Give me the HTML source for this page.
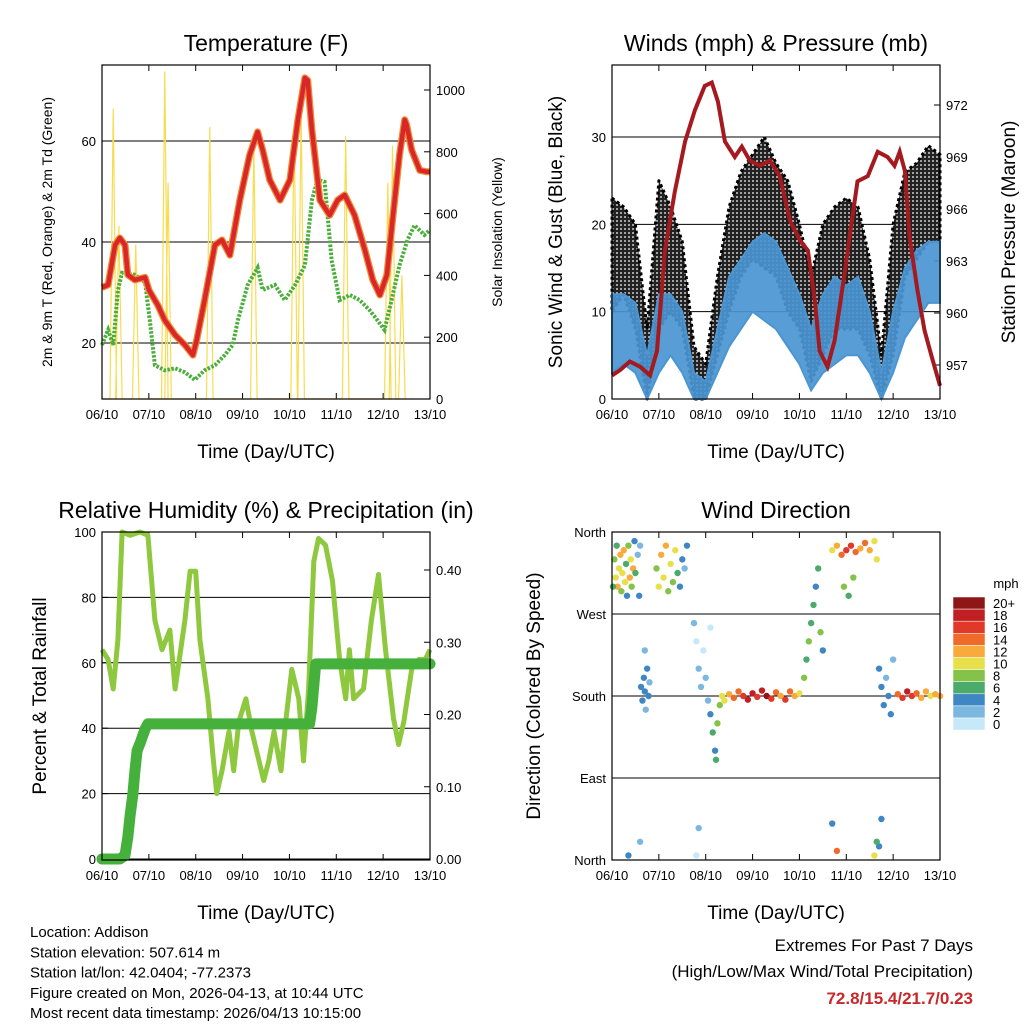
<!DOCTYPE html>
<html><head><meta charset="utf-8"><style>
body{margin:0;background:#fff}
svg{display:block;font-family:"Liberation Sans",sans-serif}
</style></head><body>
<svg id="s" width="1024" height="1024" xmlns="http://www.w3.org/2000/svg">
<defs>
<pattern id="dots" width="4" height="4" patternUnits="userSpaceOnUse"><rect width="4" height="4" fill="#222"/><circle cx="1" cy="1" r="0.9" fill="#fff"/></pattern>
</defs>
</svg>
<script>
// ---------- DATA ----------
const dayTicks=["06/10","07/10","08/10","09/10","10/10","11/10","12/10","13/10"];
const tDay=[0,0.13,0.28,0.38,0.49,0.55,0.7,0.92,1.0,1.19,1.34,1.56,1.77,1.94,2.02,2.19,2.41,2.56,2.73,2.94,3.15,3.32,3.43,3.58,3.8,4.01,4.18,4.33,4.39,4.48,4.65,4.86,5.03,5.18,5.39,5.61,5.78,5.93,6.08,6.2,6.35,6.46,6.5,6.61,6.78,6.93,7.0];
const tVal=[31,31.5,39.4,40.8,39.4,33.5,32.5,33,30.5,27.5,24.5,21.6,19.6,17.6,20.6,28.5,39.4,40.4,37.4,48.3,57.2,61.8,58.2,52.3,48.3,52.3,64.2,72.5,72,62.2,48.3,45.3,48.3,49.3,45.3,38.4,32.5,29.5,33.5,44.3,57.2,64.2,63.2,58.2,54.2,53.9,53.9];
const tdDay=[0,0.13,0.24,0.34,0.43,0.7,0.92,1.02,1.13,1.34,1.56,1.77,1.98,2.19,2.41,2.62,2.79,2.9,3.11,3.32,3.43,3.69,3.9,4.12,4.33,4.48,4.6,4.75,4.9,5.07,5.29,5.5,5.71,5.88,6.03,6.18,6.35,6.52,6.67,6.88,7.0];
const tdVal=[19.6,22.6,19.6,30.5,33.9,33.5,32,24.5,15.6,14.6,15,14.2,12.7,14.6,15.6,17.6,19.6,24.5,31.5,34.9,30.5,31.5,28.5,31.5,35.4,48.3,52.3,51.9,36.4,28.5,29.5,28.5,26.5,24.5,22.6,28.5,35.4,40.4,43.3,41.4,42.4];
const solDay=[0.24,0.36,0.72,1.34,1.41,2.3,3.24,4.1,4.25,5.2,6.1,6.2,6.4];
const solVal=[940,560,500,1060,700,880,830,890,930,850,700,820,400];
const wDay=[0,0.25,0.5,0.75,1,1.25,1.5,1.75,2,2.25,2.5,2.75,3,3.25,3.5,3.75,4,4.25,4.5,4.75,5,5.25,5.5,5.75,6,6.25,6.5,6.75,7];
const windLo=[3,4,3,0,3,5,3,0,0,3,6,8,10,9,8,6,4,1,3,4,5,5,3,0,3,7,9,11,11];
const windHi=[12,12,11,5,12,12,10,3,2,8,14,16,18,19,18,15,12,8,12,14,13,14,10,3,10,15,17,18,18];
const gustLo=[10,12,8,0,8,10,8,0,0,5,10,14,16,15,14,10,8,2,5,8,8,8,5,0,5,14,16,18,18];
const gustHi=[23,22,20,8,25,22,18,6,4,14,22,26,28,30,27,25,20,14,20,22,23,22,16,5,20,26,27,29,28];
const pDay=[0,0.17,0.38,0.6,0.81,0.96,1.13,1.34,1.56,1.77,1.98,2.13,2.26,2.41,2.62,2.77,2.94,3.15,3.37,3.58,3.8,4.01,4.18,4.33,4.43,4.6,4.75,4.97,5.07,5.24,5.46,5.67,5.88,6.03,6.14,6.25,6.35,6.52,6.67,6.82,7.0];
const pVal=[956.4,956.7,957.2,956.9,956.4,957.8,963.6,967,969.9,971.7,973.1,973.3,972.2,969.9,969,969.6,968.8,968.5,968.8,967.9,965.3,964.2,963.6,960.7,957.8,956.9,958.4,962.4,964.4,967.6,967.9,969.3,969,968.5,969.3,968.2,964.4,961.3,959,957.5,955.8];
const rhDay=[0,0.13,0.24,0.34,0.43,0.6,0.81,0.98,1.13,1.28,1.45,1.56,1.77,1.88,2.0,2.09,2.26,2.37,2.45,2.56,2.71,2.81,2.92,3.07,3.2,3.35,3.45,3.56,3.67,3.82,3.92,4.05,4.2,4.3,4.41,4.52,4.62,4.77,4.92,5.07,5.2,5.28,5.37,5.58,5.75,5.9,6.05,6.22,6.33,6.44,6.61,6.76,6.9,7.0];
const rhVal=[64,61,52,67,100,99,100,99,73,64,70,52,73,88,88,67,49,31,20,27,39,27,42,49,39,30,24,30,39,27,42,58,49,30,52,91,98,96,85,61,49,64,49,52,73,87,64,43,35,42,58,61,61,64];
const prDay=[0,0.38,0.49,0.55,0.6,0.66,0.7,0.75,0.81,0.92,0.98,4.43,4.48,4.56,7.0];
const prVal=[0,0,0.005,0.03,0.06,0.09,0.12,0.15,0.16,0.18,0.187,0.187,0.21,0.27,0.27];
const wdDay=[0.05,0.08,0.1,0.12,0.15,0.18,0.2,0.22,0.25,0.28,0.3,0.32,0.35,0.38,0.4,0.42,0.45,0.48,0.5,0.55,0.58,0.02,0.6,
0.62,0.65,0.68,0.7,0.72,0.75,0.78,0.8,0.7,
0.95,1.0,1.05,1.1,1.15,1.2,1.25,1.3,1.35,1.4,1.45,1.5,1.55,1.6,
1.75,1.8,1.85,1.9,1.95,2.0,2.05,2.1,
2.1,2.15,2.2,2.22,2.25,2.3,2.35,2.4,
2.5,2.6,2.7,2.8,2.9,3.0,3.1,3.2,3.3,3.4,3.5,3.6,3.7,3.8,3.9,4.0,
4.1,4.15,4.2,4.25,4.3,4.35,4.4,4.45,4.5,
4.7,4.8,4.9,5.0,5.1,5.2,5.3,5.4,5.5,5.6,4.95,5.05,5.15,5.65,
5.7,5.75,5.8,5.85,5.9,5.95,6.0,
6.1,6.2,6.3,6.4,6.5,6.6,6.7,6.8,6.9,7.0,
0.35,0.6,1.8,1.85,4.7,4.8,5.6,5.7,5.75,5.65];
const wdDir=[330,310,345,300,320,335,295,315,340,305,325,290,345,310,330,300,320,350,315,335,290,300,345,
190,175,200,185,165,210,180,195,230,
320,300,335,310,345,295,325,305,340,315,300,330,320,345,
260,240,210,190,230,200,175,255,
160,140,120,110,150,170,180,175,
182,178,185,180,176,183,179,186,180,177,184,180,176,185,180,183,
200,220,240,260,280,300,320,250,230,
340,345,335,340,345,338,342,348,340,350,300,290,310,330,
210,190,170,200,180,160,220,
182,178,185,180,183,178,185,180,182,180,
5,20,5,35,40,10,5,15,45,20];
const wdSpd=[8,10,6,12,9,11,7,10,12,9,6,4,8,11,10,8,12,3,6,2,4,5,1,
4,3,4,3,2,4,3,2,2,
8,10,12,9,11,7,10,8,9,6,4,3,2,4,
1,0,1,2,0,1,2,0,
4,5,4,6,7,8,10,9,
12,14,13,16,18,17,16,18,19,15,14,12,16,13,11,10,
8,6,7,5,6,4,5,8,3,
10,12,14,16,15,13,12,14,11,10,7,6,8,9,
3,4,3,2,4,3,1,
14,16,17,15,13,12,11,10,12,11,
4,2,0,1,3,14,10,4,3,6];
const cbLabels=["20+","18","16","14","12","10","8","6","4","2","0"];
const cbColors=["#8e1616","#c01f24","#e0392a","#f06a2a","#f9aa3c","#e8e04a","#84c24a","#4caa6a","#3f87c4","#7cb7e0","#c6e8f8"];

// ---------- DRAW ----------
const NS="http://www.w3.org/2000/svg", S=document.getElementById('s');
function el(tag,at,parent,txt){const e=document.createElementNS(NS,tag);for(const k in at)e.setAttribute(k,at[k]);if(txt!==undefined)e.textContent=txt;(parent||S).appendChild(e);return e;}
function lin(d0,d1,r0,r1){return v=>r0+(v-d0)/(d1-d0)*(r1-r0);}
function path(xs,ys,fx,fy){return xs.map((d,i)=>(i?'L':'M')+fx(d).toFixed(1)+','+fy(ys[i]).toFixed(1)).join('');}
function band(xs,lo,hi,fx,fy){let p=path(xs,hi,fx,fy);for(let i=xs.length-1;i>=0;i--)p+='L'+fx(xs[i]).toFixed(1)+','+fy(lo[i]).toFixed(1);return p+'Z';}

function frame(g,x0,x1,y0,y1,title,name){
  const t=el('text',{x:(x0+x1)/2,y:y0-14,'text-anchor':'middle','font-size':23},g,title);
  
  const fx=lin(0,7,x0,x1);
  dayTicks.forEach((l,i)=>{const x=fx(i);
    el('line',{x1:x,x2:x,y1:y1,y2:y1-6,stroke:'#000'},g);el('line',{x1:x,x2:x,y1:y0,y2:y0+6,stroke:'#000'},g);
    const tt=el('text',{x:x,y:y1+20,'text-anchor':'middle','font-size':13},g,l);
    });
  const xt=el('text',{x:(x0+x1)/2,y:y1+59,'text-anchor':'middle','font-size':19},g,'Time (Day/UTC)');
  
  return fx;
}
function border(g,x0,x1,y0,y1){el('rect',{x:x0,y:y0,width:x1-x0,height:y1-y0,fill:'none',stroke:'#000','stroke-width':1.2},g);}
function yTicks(g,vals,labels,fy,x,side,x0,x1,grid){
  vals.forEach((v,i)=>{const y=fy(v);
    el('line',{x1:x,x2:x+(side<0?6:-6),y1:y,y2:y,stroke:'#000'},g);
    if(grid)el('line',{x1:x0,x2:x1,y1:y,y2:y,stroke:'#000','stroke-width':1},g);
    const t=el('text',{x:x+(side<0?-6:6),y:y+5,'text-anchor':side<0?'end':'start','font-size':13},g,labels[i]);
    });
}
function ytitle(g,x,y,size,txt,name){const t=el('text',{x:x,y:y,'text-anchor':'middle','font-size':size,transform:`rotate(-90 ${x} ${y})`},g,txt);}

// Panel 1 Temperature
(function(){
  const g=el('g',{});
  const x0=102,x1=430,y0=65,y1=399;
  const fx=frame(g,x0,x1,y0,y1,'Temperature (F)','temperature');
  const fy=lin(20,40,343,242), fs=lin(0,1000,399,90);
  yTicks(g,[20,40,60],['20','40','60'],fy,x0,-1,x0,x1,true);
  yTicks(g,[0,200,400,600,800,1000],['0','200','400','600','800','1000'],fs,x1,1,x0,x1,false);
  let sp='M'+x0+','+y1;
  solDay.forEach((d,i)=>{sp+=`L${fx(d-0.07)},${y1}L${fx(d)},${fs(solVal[i])}L${fx(d+0.07)},${y1}`;});
  const s=el('path',{d:sp,fill:'none',stroke:'#f7dc50','stroke-width':1.2},g);
  
  const td=el('path',{d:path(tdDay,tdVal,fx,fy),fill:'none',stroke:'#4aae3a','stroke-width':4,'stroke-dasharray':'2.5 1.5'},g);
  
  const o=el('path',{d:path(tDay,tVal,fx,fy),fill:'none',stroke:'#f08a30','stroke-width':7,'stroke-linejoin':'round'},g);
  
  const r=el('path',{d:path(tDay,tVal,fx,fy),fill:'none',stroke:'#d8262a','stroke-width':4.5,'stroke-linejoin':'round'},g);
  
  border(g,x0,x1,y0,y1);
  ytitle(g,52,232,14,'2m & 9m T (Red, Orange) & 2m Td (Green)','y-axis-title-left');
  ytitle(g,502,232,14,'Solar Insolation (Yellow)','y-axis-title-right');
})();

// Panel 2 Winds
(function(){
  const g=el('g',{});
  const x0=612,x1=940,y0=65,y1=399;
  const fx=frame(g,x0,x1,y0,y1,'Winds (mph) & Pressure (mb)','winds');
  const fy=lin(0,30,399,137), fp=lin(957,972,365,105);
  yTicks(g,[0,10,20,30],['0','10','20','30'],fy,x0,-1,x0,x1,true);
  yTicks(g,[957,960,963,966,969,972],['957','960','963','966','969','972'],fp,x1,1,x0,x1,false);
  const gb=el('path',{d:band(wDay,gustLo,gustHi,fx,fy),fill:'url(#dots)',stroke:'#000','stroke-width':3,'stroke-dasharray':'3 3','stroke-linejoin':'round'},g);
  
  const wb=el('path',{d:band(wDay,windLo,windHi,fx,fy),fill:'#4a95d2','fill-opacity':0.92,stroke:'#4a95d2','stroke-width':2},g);
  
  const p=el('path',{d:path(pDay,pVal,fx,fp),fill:'none',stroke:'#a51a1e','stroke-width':4},g);
  
  border(g,x0,x1,y0,y1);
  ytitle(g,562,232,19,'Sonic Wind & Gust (Blue, Black)','y-axis-title-left');
  ytitle(g,1015,232,19,'Station Pressure (Maroon)','y-axis-title-right');
})();

// Panel 3 RH
(function(){
  const g=el('g',{});
  const x0=102,x1=430,y0=532,y1=860;
  const fx=frame(g,x0,x1,y0,y1,'Relative Humidity (%) & Precipitation (in)','humidity');
  const fy=lin(0,100,859,532), fr=lin(0,0.4,859,570);
  yTicks(g,[0,20,40,60,80,100],['0','20','40','60','80','100'],fy,x0,-1,x0,x1,true);
  yTicks(g,[0,0.1,0.2,0.3,0.4],['0.00','0.10','0.20','0.30','0.40'],fr,x1,1,x0,x1,false);
  const rh=el('path',{d:path(rhDay,rhVal,fx,fy),fill:'none',stroke:'#8ec83e','stroke-width':5,'stroke-linejoin':'round'},g);
  
  const pr=el('path',{d:path(prDay,prVal,fx,fr),fill:'none',stroke:'#45b03c','stroke-width':11,'stroke-linejoin':'round','stroke-linecap':'round'},g);
  
  border(g,x0,x1,y0,y1);
  ytitle(g,46,696,19,'Percent & Total Rainfall','y-axis-title-left');
})();

// Panel 4 Wind direction
(function(){
  const g=el('g',{});
  const x0=612,x1=940,y0=532,y1=860;
  const fx=frame(g,x0,x1,y0,y1,'Wind Direction','wind-direction');
  const fy=lin(0,360,860,532);
  yTicks(g,[0,90,180,270,360],['North','East','South','West','North'],fy,x0,-1,x0,x1,true);
  const col=s=>cbColors[10-Math.min(10,Math.round(s/2))];
  wdDay.forEach((d,i)=>{const c=el('circle',{cx:fx(d),cy:fy(wdDir[i]),r:3.2,fill:col(wdSpd[i])},g);
    });
  border(g,x0,x1,y0,y1);
  ytitle(g,540,696,19,'Direction (Colored By Speed)','y-axis-title-left');
  const lg=el('g',{},g);
  const t=el('text',{x:1006,y:588,'font-size':13,'text-anchor':'middle'},lg,'mph');
  
  cbLabels.forEach((l,i)=>{const y=597+i*12.1;
    el('rect',{x:953,y:y,width:32,height:12.1,fill:cbColors[i],stroke:'#fff','stroke-width':0.5},lg);
    const tt=el('text',{x:993,y:y+11,'font-size':13},lg,l);
    });
})();

const info=["Location: Addison","Station elevation: 507.614 m","Station lat/lon: 42.0404; -77.2373","Figure created on Mon, 2026-04-13, at 10:44 UTC","Most recent data timestamp: 2026/04/13 10:15:00"];
info.forEach((s,i)=>{const t=el('text',{x:30,y:937+i*20.3,'font-size':15},S,s);
  });
const e1=el('text',{x:973,y:951,'font-size':17,'text-anchor':'end'},S,'Extremes For Past 7 Days');

const e2=el('text',{x:973,y:977,'font-size':17,'text-anchor':'end'},S,'(High/Low/Max Wind/Total Precipitation)');

const e3=el('text',{x:973,y:1004,'font-size':17,'text-anchor':'end','font-weight':'bold',fill:'#c8282a'},S,'72.8/15.4/21.7/0.23');

</script>
</body></html>
